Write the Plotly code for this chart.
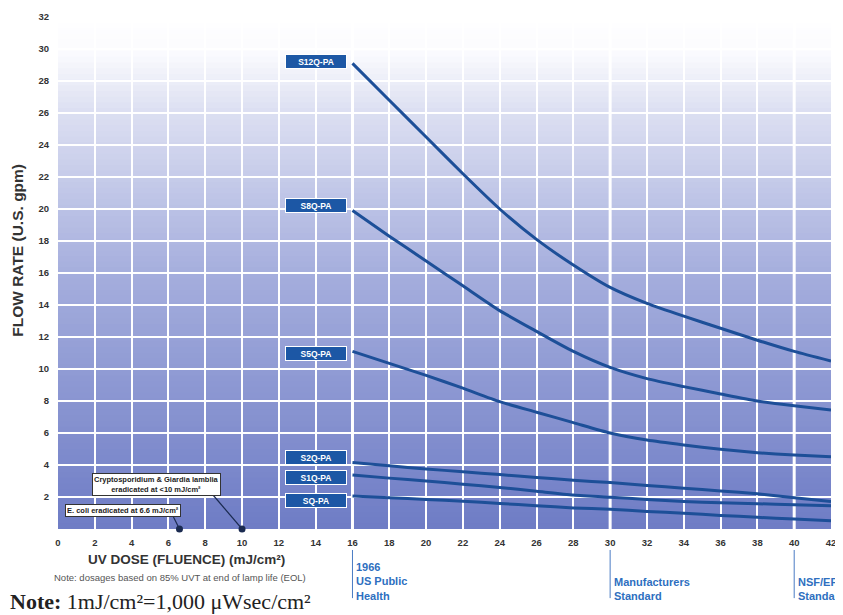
import plotly.graph_objects as go

# ---- data ----
uv_dose = [16, 18, 20, 22, 24, 26, 28, 30, 32, 34, 36, 38, 40, 42]
s12q_pa = [29.1, 26.8, 24.5, 22.2, 20.0, 18.1, 16.5, 15.1, 14.1, 13.3, 12.55, 11.8, 11.1, 10.5]
s8q_pa = [19.9, 18.3, 16.75, 15.2, 13.65, 12.35, 11.1, 10.1, 9.4, 8.9, 8.44, 8.0, 7.7, 7.44]
s5q_pa = [11.1, 10.35, 9.6, 8.8, 7.96, 7.3, 6.65, 6.0, 5.56, 5.25, 4.98, 4.77, 4.62, 4.52]
s2q_pa = [4.15, 3.95, 3.75, 3.58, 3.4, 3.22, 3.05, 2.9, 2.72, 2.55, 2.38, 2.2, 1.95, 1.72]
s1q_pa = [3.37, 3.18, 3.0, 2.8, 2.6, 2.36, 2.12, 1.98, 1.85, 1.72, 1.64, 1.58, 1.52, 1.45]
sq_pa = [2.06, 1.96, 1.85, 1.73, 1.6, 1.46, 1.32, 1.23, 1.1, 0.98, 0.85, 0.73, 0.62, 0.52]

series_names = ["S12Q-PA", "S8Q-PA", "S5Q-PA", "S2Q-PA", "S1Q-PA", "SQ-PA"]
series_values = [s12q_pa, s8q_pa, s5q_pa, s2q_pa, s1q_pa, sq_pa]
label_y = [29.25, 20.2, 11.0, 4.47, 3.22, 1.81]
label_x = 14.0

x_ticks = list(range(0, 43, 2))
y_ticks = list(range(2, 33, 2))

standards_x = [16, 30, 40]
standards_text = ["1966<br>US Public<br>Health", "Manufacturers<br>Standard", "NSF/EPA<br>Standard"]
standards_top = [-0.058, -0.088, -0.088]

eradication_x = [6.6, 10]
eradication_y = [0, 0]
eradication_text = ["E. coli eradicated at 6.6 mJ/cm²",
                    "Cryptosporidium & Giardia lamblia<br>eradicated at <10 mJ/cm²"]

LINE = "#1d4f98"
BOX = "#1c57a5"

fig = go.Figure()

# gradient background bands (paper coords inside plot)
stops = [(0.0, (110, 124, 197)), (0.5, (165, 174, 221)), (0.82, (221, 224, 242)),
         (0.93, (251, 251, 254)), (1.0, (255, 255, 255))]
def col(f):
    for (f0, c0), (f1, c1) in zip(stops[:-1], stops[1:]):
        if f0 <= f <= f1:
            t = (f - f0) / (f1 - f0)
            return "rgb(%d,%d,%d)" % tuple(round(a + (b - a) * t) for a, b in zip(c0, c1))
    return "rgb(255,255,255)"
N = 90
for i in range(N):
    f0 = i / N
    f1 = (i + 1) / N
    fig.add_shape(type="rect", xref="paper", yref="paper", x0=0, x1=1, y0=f0, y1=f1 + 0.002,
                  fillcolor=col((f0 + f1) / 2), line_width=0, layer="below")

# thicker white standard grid lines + reference markers below axis
for sx in standards_x:
    fig.add_shape(type="line", xref="x", yref="paper", x0=sx, x1=sx, y0=0, y1=1,
                  line=dict(color="white", width=3), layer="between")
    fig.add_shape(type="line", xref="x", yref="paper", x0=sx, x1=sx, y0=-0.041, y1=-0.135,
                  line=dict(color="#4a7cc4", width=1))

for name, vals in zip(series_names, series_values):
    fig.add_trace(go.Scatter(x=uv_dose, y=vals, mode="lines", name=name,
                             line=dict(color=LINE, width=3, shape="spline", smoothing=0.6),
                             showlegend=False))

# leader lines for eradication callouts (pixel offsets from the data point)
for ex, ey, (dx, dy) in zip(eradication_x, eradication_y, [(-6, 12), (-29, 34)]):
    fig.add_shape(type="line", xref="x", yref="y", xsizemode="pixel", ysizemode="pixel",
                  xanchor=ex, yanchor=ey, x0=0, x1=dx, y0=0, y1=dy,
                  line=dict(color="#1a2a50", width=1.2))

fig.add_trace(go.Scatter(x=eradication_x, y=eradication_y, mode="markers",
                         marker=dict(color="#1a2a50", size=7), cliponaxis=False,
                         showlegend=False))

ann = []
for name, ly in zip(series_names, label_y):
    ann.append(dict(x=label_x, y=ly, xref="x", yref="y", text="<b>%s</b>" % name,
                    showarrow=False, font=dict(family="Liberation Sans", size=8.5, color="white"),
                    bgcolor=BOX, bordercolor="white", borderwidth=1, width=58, height=11,
                    borderpad=1))

for sx, st, top in zip(standards_x, standards_text, standards_top):
    ann.append(dict(x=sx, y=top, xref="x", yref="paper", text="<b>%s</b>" % st,
                    showarrow=False, xanchor="left", yanchor="top", xshift=2, align="left",
                    font=dict(family="Liberation Sans", size=11, color="#2e6fbf")))

ann.append(dict(x=eradication_x[0], y=eradication_y[0], xref="x", yref="y",
                text="<b>%s</b>" % eradication_text[0], showarrow=False,
                xshift=-56, yshift=19, bgcolor="white", bordercolor="#333", borderwidth=1,
                borderpad=1, font=dict(family="Liberation Sans", size=7.5, color="#222")))
ann.append(dict(x=eradication_x[1], y=eradication_y[1], xref="x", yref="y",
                text="<b>%s</b>" % eradication_text[1], showarrow=False,
                xshift=-86, yshift=45, bgcolor="white", bordercolor="#333", borderwidth=1,
                borderpad=1, font=dict(family="Liberation Sans", size=7.5, color="#222")))

# titles
ann.append(dict(x=0.036, y=-0.06, xref="paper", yref="paper", xanchor="left", yanchor="middle",
                text="<b>UV DOSE (FLUENCE) (mJ/cm²)</b>", showarrow=False,
                font=dict(family="Liberation Sans", size=13.5, color="#333")))
ann.append(dict(x=-0.008, y=-0.094, xref="paper", yref="paper", xanchor="left", yanchor="middle",
                text="Note: dosages based on 85% UVT at end of lamp life (EOL)", showarrow=False,
                font=dict(family="Liberation Sans", size=9.5, color="#555")))
ann.append(dict(x=-0.065, y=-0.141, xref="paper", yref="paper", xanchor="left", yanchor="middle",
                text="<b>Note:</b> 1mJ/cm²=1,000 μWsec/cm²", showarrow=False,
                font=dict(family="Liberation Serif", size=22, color="#222")))
ann.append(dict(x=-0.052, y=0.545, xref="paper", yref="paper", textangle=-90,
                xanchor="center", yanchor="middle",
                text="<b>FLOW RATE (U.S. gpm)</b>", showarrow=False,
                font=dict(family="Liberation Sans", size=15.5, color="#333")))

# page body has an 8px margin, so the figure is drawn 8px smaller and offset
fig.update_layout(
    width=835, height=607,
    margin=dict(l=50, r=12, t=9, b=86),
    paper_bgcolor="white", plot_bgcolor="white",
    annotations=ann,
    font=dict(family="Liberation Sans", color="#333"),
)
fig.update_xaxes(range=[0, 42], tickvals=x_ticks, ticktext=[str(v) for v in x_ticks],
                 showgrid=True, gridcolor="white", gridwidth=1.5, zeroline=False,
                 showline=False, ticks="", ticklabelstandoff=6, automargin=False,
                 tickfont=dict(size=9.5, weight="bold", color="#333"))
fig.update_yaxes(range=[0, 32], tickvals=y_ticks, ticktext=[str(v) for v in y_ticks],
                 showgrid=True, gridcolor="white", gridwidth=1.5, zeroline=False,
                 showline=False, ticks="", ticklabelstandoff=8, automargin=False,
                 tickfont=dict(size=9.5, weight="bold", color="#333"))

fig.write_html("out.html")
